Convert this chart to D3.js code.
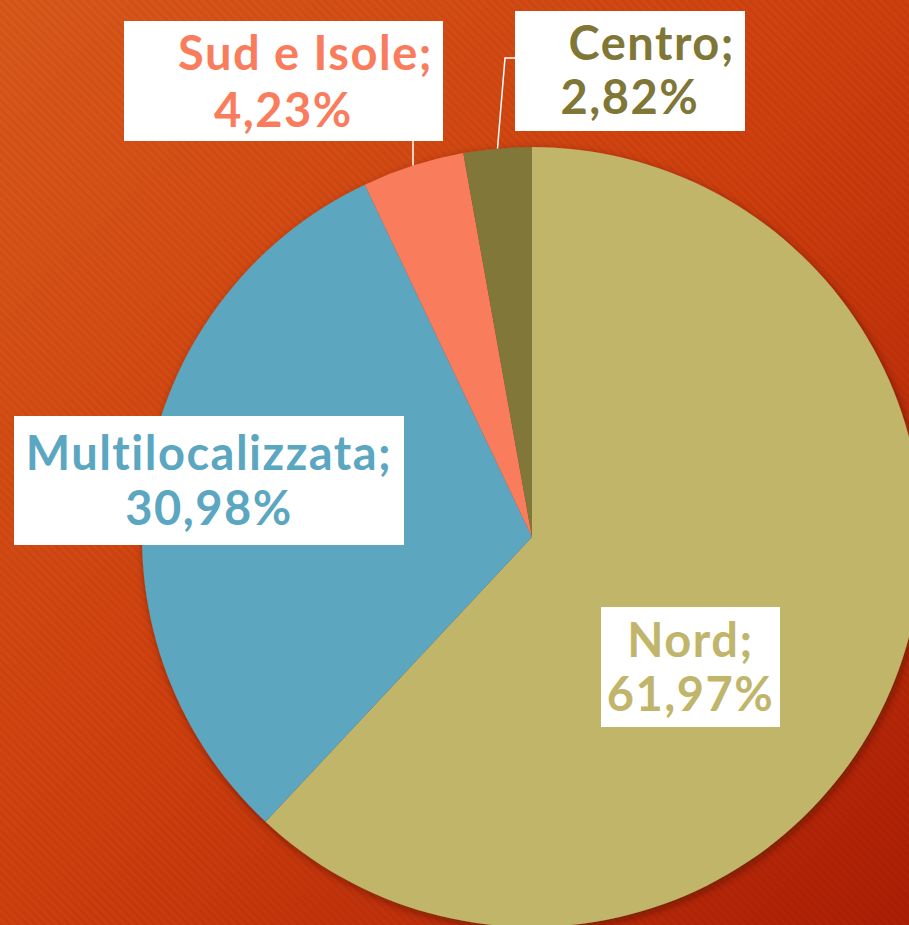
<!DOCTYPE html>
<html>
<head>
<meta charset="utf-8">
<script src="https://cdn.jsdelivr.net/npm/d3@7"></script>
<style>
  html, body { margin: 0; padding: 0; }
  svg { display: block; }
  .lbl { font-family: Lato, "Open Sans", sans-serif; font-weight: 700; font-variant-ligatures: none; letter-spacing: 1.5px; }
</style>
</head>
<body>
<svg width="909" height="925"></svg>
<script>
// data
const categories = ['Nord', 'Multilocalizzata', 'Sud e Isole', 'Centro'];
const shares = [61.97, 30.98, 4.23, 2.82];
const sliceColors = ['#c1b56b', '#5ba6c0', '#f97c5d', '#807737'];

const width = 909, height = 925;
const cx = 532, cy = 537, radius = 390;

// label boxes (layout only)
const labelBoxes = {
  'Nord':             {x: 601, y: 607, w: 179, h: 120, b1: 657, b2: 711, align: 'middle'},
  'Multilocalizzata': {x: 14,  y: 416, w: 390, h: 129, b1: 470, b2: 525, align: 'middle'},
  'Sud e Isole':      {x: 124, y: 21,  w: 319, h: 120, b1: 70,  b2: 127, align: 'end'},
  'Centro':           {x: 515, y: 11,  w: 230, h: 120, b1: 60,  b2: 114, align: 'end'}
};

const svg = d3.select('svg');
const defs = svg.append('defs');

const bg = defs.append('linearGradient')
    .attr('id', 'bg')
    .attr('x1', 0).attr('y1', 0).attr('x2', 1).attr('y2', 1);
bg.append('stop').attr('offset', '0%').attr('stop-color', '#da591b');
bg.append('stop').attr('offset', '50%').attr('stop-color', '#cf3f0e');
bg.append('stop').attr('offset', '100%').attr('stop-color', '#ad1e05');

const stripes = defs.append('pattern')
    .attr('id', 'stripes')
    .attr('width', 6).attr('height', 6)
    .attr('patternUnits', 'userSpaceOnUse')
    .attr('patternTransform', 'rotate(-45)');
stripes.append('rect')
    .attr('width', 3).attr('height', 6)
    .attr('fill', '#000').attr('opacity', 0.045);

const shadow = defs.append('filter')
    .attr('id', 'shadow')
    .attr('x', '-10%').attr('y', '-10%')
    .attr('width', '120%').attr('height', '120%');
shadow.append('feDropShadow')
    .attr('dx', 2).attr('dy', 3)
    .attr('stdDeviation', 4)
    .attr('flood-color', '#3a0a00')
    .attr('flood-opacity', 0.55);

svg.append('rect').attr('width', width).attr('height', height).attr('fill', 'url(#bg)');
svg.append('rect').attr('width', width).attr('height', height).attr('fill', 'url(#stripes)');

const data = categories.map((c, i) => ({name: c, value: shares[i], color: sliceColors[i]}));

const pie = d3.pie().value(d => d.value).sort(null);
const arc = d3.arc().innerRadius(0).outerRadius(radius);
const arcs = pie(data);

const g = svg.append('g')
    .attr('transform', `translate(${cx},${cy})`);

g.append('g')
    .attr('filter', 'url(#shadow)')
  .selectAll('path').data(arcs)
  .enter().append('path')
    .attr('d', arc)
    .attr('fill', d => d.data.color);

const fmt = v => d3.format('.2f')(v).replace('.', ',') + '%';

// leader lines for the small slices
const edgePoint = d => {
  const a = (d.startAngle + d.endAngle) / 2;
  return [cx + radius * Math.sin(a), cy - radius * Math.cos(a)];
};
const leaders = svg.append('g')
    .attr('fill', 'none')
    .attr('stroke', '#fff')
    .attr('stroke-width', 1.5);

arcs.forEach(d => {
  const box = labelBoxes[d.data.name];
  const [ex, ey] = edgePoint(d);
  if (d.data.name === 'Sud e Isole') {
    leaders.append('path').attr('d', `M${ex},${ey}L${ex},${box.y + box.h}`);
  } else if (d.data.name === 'Centro') {
    leaders.append('path').attr('d', `M${ex},${ey}L${box.x - 10},${box.y + 47}L${box.x},${box.y + 47}`);
  }
});

const labels = svg.append('g').selectAll('g').data(arcs)
  .enter().append('g')
    .attr('class', 'lbl');

labels.append('rect')
    .attr('x', d => labelBoxes[d.data.name].x)
    .attr('y', d => labelBoxes[d.data.name].y)
    .attr('width', d => labelBoxes[d.data.name].w)
    .attr('height', d => labelBoxes[d.data.name].h)
    .attr('fill', '#fff');

labels.append('text')
    .attr('x', d => {
      const b = labelBoxes[d.data.name];
      return b.align === 'end' ? b.x + b.w - 10 : b.x + b.w / 2;
    })
    .attr('y', d => labelBoxes[d.data.name].b1)
    .attr('text-anchor', d => labelBoxes[d.data.name].align)
    .attr('font-size', 47)
    .attr('fill', d => d.data.color)
    .text(d => d.data.name + ';');

labels.append('text')
    .attr('x', d => labelBoxes[d.data.name].x + labelBoxes[d.data.name].w / 2)
    .attr('y', d => labelBoxes[d.data.name].b2)
    .attr('text-anchor', 'middle')
    .attr('font-size', 47)
    .attr('fill', d => d.data.color)
    .text(d => fmt(d.data.value));
</script>
</body>
</html>
